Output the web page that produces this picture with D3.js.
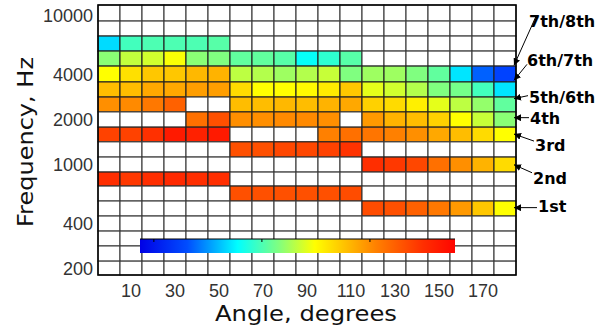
<!DOCTYPE html>
<html>
<head>
<meta charset="utf-8">
<script src="https://cdn.jsdelivr.net/npm/d3@7"></script>
<style>
  body { margin: 0; background: #fff; }
  svg { display: block; }
</style>
</head>
<body>
<svg id="chart" width="605" height="331"></svg>
<script>
// angle at the centre of each column, degrees
const angles = [0, 10, 20, 30, 40, 50, 60, 70, 80, 90, 100, 110, 120, 130, 140, 150, 160, 170, 180];

// frequency band edges, Hz, top to bottom
const freqEdges = [11700, 9130, 7240, 5740, 4550, 3560, 2820, 2240, 1770, 1410,
                   1115, 884, 712, 565, 448, 355, 282, 223, 180];

const xTicks = [10, 30, 50, 70, 90, 110, 130, 150, 170];
const yTicks = [200, 400, 1000, 2000, 4000, 10000];

// colormap position (0..1, jet) of every cell, rows top to bottom; null = empty
const N = null;
const cellValues = [
  [N, N, N, N, N, N, N, N, N, N, N, N, N, N, N, N, N, N, N],
  [N, N, N, N, N, N, N, N, N, N, N, N, N, N, N, N, N, N, N],
  [.34, .44, .45, .45, .45, .46, N, N, N, N, N, N, N, N, N, N, N, N, N],
  [.51, .565, .58, .62, .51, .50, .47, .47, .46, .38, .42, .46, N, N, N, N, N, N, N],
  [.625, .655, .68, .68, .695, .70, .56, .55, .53, .55, .57, .50, .53, .53, .50, .47, .35, .22, .19],
  [.69, .69, .71, .71, .72, .72, .66, .625, .625, .63, .645, .68, .60, .58, .55, .50, .49, .44, .35],
  [.735, .74, .757, .78, N, N, .69, .69, .695, .69, .70, .71, .67, .66, .64, .60, .56, .52, .47],
  [N, N, N, N, .765, .797, .735, .735, .74, .74, .735, N, .725, .70, .69, .67, .625, .57, .51],
  [.81, .81, .828, .85, .843, .85, N, N, N, N, .75, .765, .76, .75, .735, .71, .69, .66, .625],
  [N, N, N, N, N, N, .797, .797, .805, .805, .81, .825, N, N, N, N, N, N, N],
  [N, N, N, N, N, N, N, N, N, N, N, N, .83, .82, .805, .765, .735, .70, .66],
  [.83, .82, .83, .835, .83, .83, N, N, N, N, N, N, N, N, N, N, N, N, N],
  [N, N, N, N, N, N, .797, .797, .797, .797, .797, .80, N, N, N, N, N, N, N],
  [N, N, N, N, N, N, N, N, N, N, N, N, .80, .797, .78, .757, .725, .68, .625],
  [N, N, N, N, N, N, N, N, N, N, N, N, N, N, N, N, N, N, N],
  [N, N, N, N, N, N, N, N, N, N, N, N, N, N, N, N, N, N, N],
  [N, N, N, N, N, N, N, N, N, N, N, N, N, N, N, N, N, N, N],
  [N, N, N, N, N, N, N, N, N, N, N, N, N, N, N, N, N, N, N]
];

// harmonic annotations on the right edge, Hz
const harmonicNames = ["7th/8th", "6th/7th", "5th/6th", "4th", "3rd", "2nd", "1st"];
const harmonicFreqs = [4600, 3650, 2750, 2050, 1590, 990, 510];

// colorbar: position along the bar (0..1) and colormap value
const colorbarOffsets = [0, 0.15, 0.31, 0.44, 0.555, 0.75, 0.9, 1];
const colorbarValues = [0.1, 0.2, 0.375, 0.5, 0.625, 0.75, 0.83, 0.87];

const width = 605, height = 331;
const margin = { left: 98, right: 90, top: 5, bottom: 56 };

const svg = d3.select("#chart");
svg.append("rect").attr("width", width).attr("height", height).attr("fill", "#fff");

const x = d3.scaleLinear().domain([-5, 185]).range([margin.left, width - margin.right + 1]);
const y = d3.scaleLog().domain([180, 11700]).range([height - margin.bottom, margin.top]);

const jet = d3.scaleLinear()
  .domain([0, 0.125, 0.375, 0.625, 0.875, 1])
  .range(["#000080", "#0000ff", "#00ffff", "#ffff00", "#ff0000", "#800000"])
  .interpolate(d3.interpolateRgb);

// cells
const cells = [];
cellValues.forEach((row, r) => {
  row.forEach((v, c) => {
    cells.push({ r, c, v });
  });
});

svg.append("g")
  .selectAll("rect")
  .data(cells)
  .join("rect")
  .attr("x", d => x(angles[d.c] - 5))
  .attr("y", d => y(freqEdges[d.r]))
  .attr("width", d => x(angles[d.c] + 5) - x(angles[d.c] - 5))
  .attr("height", d => y(freqEdges[d.r + 1]) - y(freqEdges[d.r]))
  .attr("fill", d => d.v == null ? "#fff" : jet(d.v))
  .attr("stroke", d => d.v == null ? "#3a3a3a" : "#222")
  .attr("stroke-width", 1.1);

// colorbar drawn inside the axes
const cbar = { x: 140, y: 239, w: 315, h: 14 };
const grad = svg.append("defs").append("linearGradient")
  .attr("id", "cbar-grad")
  .attr("x1", "0%").attr("x2", "100%").attr("y1", "0%").attr("y2", "0%");
grad.selectAll("stop")
  .data(colorbarOffsets)
  .join("stop")
  .attr("offset", d => d)
  .attr("stop-color", (d, i) => jet(colorbarValues[i]));

svg.append("rect")
  .attr("x", cbar.x).attr("y", cbar.y)
  .attr("width", cbar.w).attr("height", cbar.h)
  .attr("fill", "url(#cbar-grad)");
svg.append("line")
  .attr("x1", cbar.x).attr("x2", cbar.x + cbar.w)
  .attr("y1", cbar.y).attr("y2", cbar.y)
  .attr("stroke", "#000").attr("stroke-width", 1);
svg.append("g")
  .selectAll("line")
  .data([0.044, 0.387, 0.73])
  .join("line")
  .attr("x1", d => cbar.x + d * cbar.w).attr("x2", d => cbar.x + d * cbar.w)
  .attr("y1", cbar.y).attr("y2", cbar.y + 3)
  .attr("stroke", "#000");

// frame
svg.append("rect")
  .attr("x", x(-5)).attr("y", y(11700))
  .attr("width", x(185) - x(-5)).attr("height", y(180) - y(11700))
  .attr("fill", "none")
  .attr("stroke", "#000")
  .attr("stroke-width", 1.5);

// tick labels
svg.append("g")
  .selectAll("text")
  .data(yTicks)
  .join("text")
  .attr("x", margin.left - 5)
  .attr("y", d => y(d))
  .attr("dy", "0.36em")
  .attr("text-anchor", "end")
  .attr("font-family", "'Liberation Sans', Arial, sans-serif")
  .attr("font-size", 18)
  .attr("fill", "#333")
  .text(d => d);

svg.append("g")
  .selectAll("text")
  .data(xTicks)
  .join("text")
  .attr("x", d => x(d))
  .attr("y", 296.5)
  .attr("text-anchor", "middle")
  .attr("font-family", "'Liberation Sans', Arial, sans-serif")
  .attr("font-size", 18)
  .attr("fill", "#333")
  .text(d => d);

// axis titles
svg.append("text")
  .attr("x", 306)
  .attr("y", 320.5)
  .attr("text-anchor", "middle")
  .attr("font-family", "'DejaVu Sans', sans-serif")
  .attr("font-size", 21.5)
  .attr("textLength", 182)
  .attr("lengthAdjust", "spacingAndGlyphs")
  .attr("fill", "#111")
  .text("Angle, degrees");

svg.append("text")
  .attr("transform", "translate(33,142) rotate(-90)")
  .attr("text-anchor", "middle")
  .attr("font-family", "'DejaVu Sans', sans-serif")
  .attr("font-size", 22)
  .attr("textLength", 170)
  .attr("lengthAdjust", "spacingAndGlyphs")
  .attr("fill", "#111")
  .text("Frequency, Hz");

// harmonic labels with arrows to the right edge
const defs = svg.select("defs");
defs.append("marker")
  .attr("id", "arrowhead")
  .attr("viewBox", "0 -5 10 10")
  .attr("refX", 10)
  .attr("refY", 0)
  .attr("markerWidth", 7)
  .attr("markerHeight", 7)
  .attr("markerUnits", "userSpaceOnUse")
  .attr("orient", "auto")
  .append("path")
  .attr("d", "M0,-5L10,0L0,5Z")
  .attr("fill", "#000");

// label offsets from the arrow tip: [label dx, label dy, line start dx, line start dy]
const labelOffsets = [
  [15, -38, 22, -49],
  [13, -14, 13, -16],
  [15, 4, 14, -3],
  [16, 6, 15, 0],
  [21, 17, 20, 7],
  [19, 19, 18, 8],
  [24, 4, 23, 0]
];
const tipX = x(185) - 2;

const ann = svg.append("g")
  .selectAll("g")
  .data(harmonicNames)
  .join("g");

ann.append("line")
  .attr("x1", (d, i) => tipX + labelOffsets[i][2])
  .attr("y1", (d, i) => y(harmonicFreqs[i]) + labelOffsets[i][3])
  .attr("x2", tipX)
  .attr("y2", (d, i) => y(harmonicFreqs[i]))
  .attr("stroke", "#000")
  .attr("stroke-width", 1)
  .attr("marker-end", "url(#arrowhead)");

ann.append("text")
  .attr("x", (d, i) => tipX + labelOffsets[i][0])
  .attr("y", (d, i) => y(harmonicFreqs[i]) + labelOffsets[i][1])
  .attr("font-family", "'DejaVu Sans', sans-serif")
  .attr("font-weight", "bold")
  .attr("font-size", 16)
  .attr("fill", "#000")
  .text(d => d);
</script>
</body>
</html>
